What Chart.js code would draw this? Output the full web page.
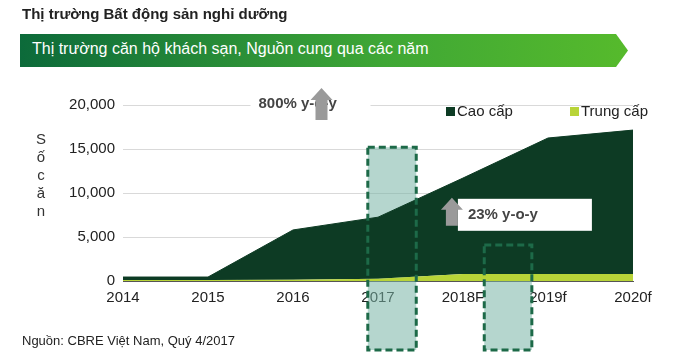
<!DOCTYPE html>
<html>
<head>
<meta charset="utf-8">
<script src="https://cdn.jsdelivr.net/npm/chart.js@4"></script>
<style>
  body { margin: 0; background: #fff; font-family: "Liberation Sans", Arial, sans-serif; }
  #wrap { position: relative; width: 680px; height: 352px; overflow: hidden; }
  #chart { position: absolute; left: 0; top: 0; }
  .title { position: absolute; left: 22px; top: 5px; font-size: 15px; font-weight: bold; color: #222; }
  .banner {
    position: absolute; left: 20px; top: 34px; width: 608px; height: 33px;
    background: linear-gradient(to right, #0c6a3a, #3fa735 60%, #56ba2c);
    clip-path: polygon(0 0, 596px 0, 608px 50%, 596px 100%, 0 100%);
  }
  .banner span { position: absolute; left: 12px; top: 6px; color: #fff; font-size: 16px; }
  .ytitle { position: absolute; left: 33px; top: 130px; width: 16px; font-size: 15px; line-height: 18px; color: #333; text-align: center; }
  .legend { position: absolute; top: 102px; font-size: 15px; color: #222; }
  .legend i { display: inline-block; width: 9px; height: 9px; margin-right: 2px; }
  .source { position: absolute; left: 22px; top: 333px; font-size: 13px; color: #222; }
</style>
</head>
<body>
<div id="wrap">
  <canvas id="chart"></canvas>
  <div class="title">Thị trường Bất động sản nghỉ dưỡng</div>
  <div class="banner"><span>Thị trường căn hộ khách sạn, Nguồn cung qua các năm</span></div>
  <div class="ytitle">S<br>ố<br>c<br>ă<br>n</div>
  <div class="legend" style="left:446px"><i style="background:#0d3b24"></i>Cao cấp</div>
  <div class="legend" style="left:570px"><i style="background:#b8d438"></i>Trung cấp</div>
  <div class="source">Nguồn: CBRE Việt Nam, Quý 4/2017</div>
</div>
<script>
const years = ['2014', '2015', '2016', '2017', '2018F', '2019f', '2020f'];
const trungCap = [100, 100, 150, 250, 800, 800, 800];
const caoCap = [350, 350, 5650, 7000, 10900, 15450, 16350];
const yTicks = [0, 5000, 10000, 15000, 20000];

// highlight boxes: x range in category units, top value
const highlightBoxes = [
    { from: 2.88, to: 3.45, top: 15200 },
    { from: 4.25, to: 4.81, top: 4100 }
];

const boxesPlugin = {
    id: 'boxes',
    beforeDatasetsDraw(chart) {
        const ctx = chart.ctx;
        const xs = chart.scales.x, ys = chart.scales.y;
        ctx.save();
        ctx.fillStyle = 'rgba(120, 180, 165, 0.55)';
        highlightBoxes.forEach(b => {
            const l = xs.getPixelForValue(b.from), r = xs.getPixelForValue(b.to);
            const t = ys.getPixelForValue(b.top);
            ctx.fillRect(l, t, r - l, chart.height - 2 - t);
        });
        ctx.restore();
    },
    afterDatasetsDraw(chart) {
        const ctx = chart.ctx;
        const xs = chart.scales.x, ys = chart.scales.y;
        ctx.save();
        ctx.strokeStyle = '#1d6a48';
        ctx.lineWidth = 3;
        ctx.setLineDash([7, 4]);
        highlightBoxes.forEach(b => {
            const l = xs.getPixelForValue(b.from), r = xs.getPixelForValue(b.to);
            const t = ys.getPixelForValue(b.top);
            ctx.strokeRect(l, t, r - l, chart.height - 2 - t);
        });
        ctx.setLineDash([]);

        // annotation: 800% y-o-y
        const y20 = ys.getPixelForValue(20000);
        const a1 = xs.getPixelForValue(1.5);
        ctx.fillStyle = '#fff';
        ctx.fillRect(a1, y20 - 11, 120, 24);
        ctx.fillStyle = '#444';
        ctx.font = 'bold 15px "Liberation Sans", Arial, sans-serif';
        ctx.textBaseline = 'middle';
        ctx.fillText('800% y-o-y', a1 + 8, y20 - 1);
        drawArrow(ctx, a1 + 71, y20 - 17, y20 + 15);

        // annotation: 23% y-o-y
        const y23 = ys.getPixelForValue(9000);
        const a2 = xs.getPixelForValue(3.94);
        ctx.fillStyle = '#fff';
        ctx.fillRect(a2, y23 - 3, 134, 32);
        ctx.fillStyle = '#444';
        ctx.fillText('23% y-o-y', a2 + 10, y23 + 13);
        drawArrow(ctx, a2 - 6, y23 - 4, y23 + 24);
        ctx.restore();
    }
};

function drawArrow(ctx, cx, top, bottom) {
    ctx.fillStyle = '#9a9a9a';
    ctx.beginPath();
    ctx.moveTo(cx, top);
    ctx.lineTo(cx + 11, top + 12);
    ctx.lineTo(cx + 6, top + 12);
    ctx.lineTo(cx + 6, bottom);
    ctx.lineTo(cx - 6, bottom);
    ctx.lineTo(cx - 6, top + 12);
    ctx.lineTo(cx - 11, top + 12);
    ctx.closePath();
    ctx.fill();
}

new Chart(document.getElementById('chart'), {
    type: 'line',
    data: {
        labels: years,
        datasets: [
            {
                label: 'Trung cấp',
                data: trungCap,
                backgroundColor: '#b8d438',
                borderColor: '#b8d438',
                borderWidth: 0,
                fill: 'origin',
                pointRadius: 0,
                tension: 0
            },
            {
                label: 'Cao cấp',
                data: caoCap,
                backgroundColor: '#0d3b24',
                borderColor: '#0d3b24',
                borderWidth: 1,
                fill: '-1',
                pointRadius: 0,
                tension: 0
            }
        ]
    },
    options: {
        responsive: true,
        maintainAspectRatio: false,
        animation: false,
        layout: { padding: { top: 105, right: 47, left: 0, bottom: 0 } },
        plugins: {
            legend: { display: false },
            tooltip: { enabled: false }
        },
        scales: {
            x: {
                offset: false,
                grid: { display: false, drawTicks: true, tickLength: 5, color: '#888' },
                border: { color: '#555', width: 1 },
                ticks: { color: '#222', font: { size: 15, family: '"Liberation Sans", Arial' }, padding: 3, maxRotation: 0, autoSkip: false },
                afterFit(scale) { scale.height = 71; }
            },
            y: {
                stacked: true,
                min: 0,
                max: 20000,
                afterBuildTicks(scale) { scale.ticks = yTicks.map(v => ({ value: v })); },
                grid: { color: '#d9d9d9', drawTicks: false },
                border: { display: false },
                ticks: {
                    color: '#222',
                    padding: 8,
                    font: { size: 15, family: '"Liberation Sans", Arial' },
                    callback: v => v.toLocaleString('en-US')
                },
                afterFit(scale) { scale.width = 123; }
            }
        }
    },
    plugins: [boxesPlugin]
});
</script>
</body>
</html>
